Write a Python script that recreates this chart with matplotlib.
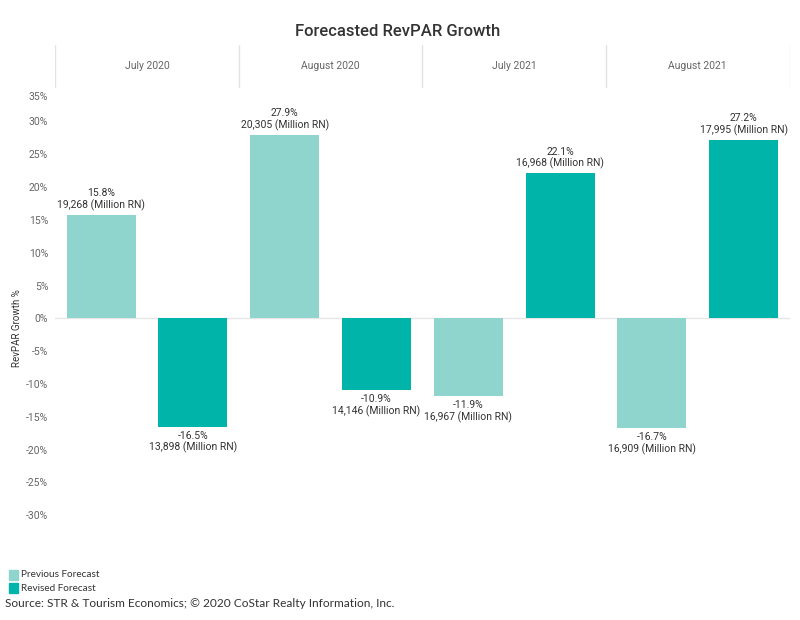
import numpy as np
import matplotlib
matplotlib.use('Agg')
import matplotlib.pyplot as plt
import matplotlib.transforms as mtrans
from matplotlib.patches import Rectangle

# Data
periods = ['July 2020', 'August 2020', 'July 2021', 'August 2021']
previous = [15.8, 27.9, -11.9, -16.7]
revised = [-16.5, -10.9, 22.1, 27.2]
previous_rn = ['19,268', '20,305', '16,967', '16,909']
revised_rn = ['13,898', '14,146', '16,968', '17,995']
yticks = list(range(-30, 40, 5))

c_prev = '#8fd4cd'
c_rev = '#00b4aa'
txt = '#333333'
grey = '#666666'
fam = ['Roboto', 'DejaVu Sans']

fig = plt.figure(figsize=(8, 6.2), dpi=100)
ax = fig.add_axes([0.069, 0.169, 0.918, 0.688])

# bars: each period has two slots, previous then revised
vals, cols, rns = [], [], []
for p, r, prn, rrn in zip(previous, revised, previous_rn, revised_rn):
    vals += [p, r]
    cols += [c_prev, c_rev]
    rns += [prn, rrn]
x = np.arange(len(vals)) + 0.5
ax.bar(x, vals, width=0.75, color=cols, zorder=2)

for xi, v, rn in zip(x, vals, rns):
    lab = '%.1f%%\n%s (Million RN)' % (v, rn)
    if v >= 0:
        ax.text(xi, v + 0.6, lab, ha='center', va='bottom', fontsize=7.5,
                color=txt, linespacing=1.15, family=fam)
    else:
        ax.text(xi, v - 0.6, lab, ha='center', va='top', fontsize=7.5,
                color=txt, linespacing=1.15, family=fam)

ax.axhline(0, color='#e6e6e6', lw=1, zorder=1)
ax.set_xlim(0, len(vals))
ax.set_ylim(-30, 35)
ax.set_yticks(yticks)
ax.set_yticklabels(['%d%%' % t for t in yticks], fontsize=7.5, color=grey, family=fam)
ax.set_xticks([])
ax.tick_params(axis='y', length=0, pad=5)
for s in ax.spines.values():
    s.set_visible(False)
# top tick label sits a little lower in the original
top = ax.get_yticklabels()[-1]
top.set_transform(top.get_transform() + mtrans.ScaledTranslation(0, -7 / 100, fig.dpi_scale_trans))

fig.text(0.021, 0.47, 'RevPAR Growth %', rotation=90, ha='center', va='center',
         fontsize=7, color=txt, family=fam)

# header band with period names
hdr = fig.add_axes([0.069, 0.858, 0.918, 0.07])
hdr.set_xlim(0, len(periods))
hdr.set_ylim(0, 1)
hdr.axis('off')
for i, name in enumerate(periods):
    hdr.text(i + 0.5, 0.5, name, ha='center', va='center', fontsize=7.5,
             color=grey, family=fam)
for i in range(len(periods) + 1):
    hdr.axvline(i, color='#e3e3e3', lw=1)

fig.text(0.497, 0.95, 'Forecasted RevPAR Growth', ha='center', va='center',
         fontsize=12, color=txt, family=fam, weight='medium')

# legend
fig.patches.append(Rectangle((0.011, 0.065), 0.011, 0.016, transform=fig.transFigure,
                             color=c_prev))
fig.patches.append(Rectangle((0.011, 0.043), 0.011, 0.016, transform=fig.transFigure,
                             color=c_rev))
fig.text(0.026, 0.073, 'Previous Forecast', fontsize=7.2, color=txt, va='center',
         family=['Lato', 'DejaVu Sans'])
fig.text(0.026, 0.051, 'Revised Forecast', fontsize=7.2, color=txt, va='center',
         family=['Lato', 'DejaVu Sans'])
fig.text(0.006, 0.026, 'Source: STR & Tourism Economics; \u00a9 2020 CoStar Realty Information, Inc.',
         fontsize=8.6, color=txt, va='center', family=['Lato', 'DejaVu Sans'])

fig.savefig('out.png', dpi=100)
